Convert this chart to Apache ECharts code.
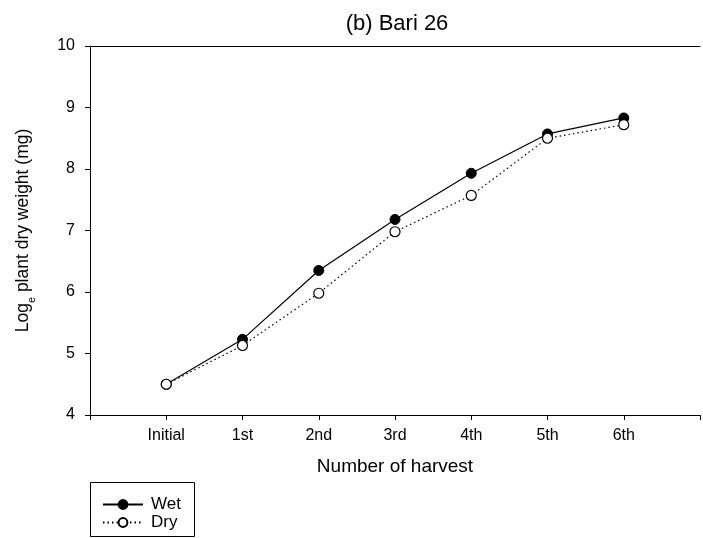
<!DOCTYPE html>
<html>
<head>
<meta charset="utf-8">
<script src="https://cdn.jsdelivr.net/npm/echarts@6/dist/echarts.min.js"></script>
<style>html,body{margin:0;padding:0;background:#fff;}#c{width:703px;height:538px;}</style>
</head>
<body>
<div id="c"></div>
<script>
const categories = ['Initial', '1st', '2nd', '3rd', '4th', '5th', '6th'];
const wetValues = [4.50, 5.23, 6.35, 7.18, 7.93, 8.57, 8.83];
const dryValues = [4.50, 5.13, 5.98, 6.98, 7.57, 8.50, 8.72];
const yTicks = [4, 5, 6, 7, 8, 9, 10];

const font = 'Liberation Sans, Arial, sans-serif';
const chart = echarts.init(document.getElementById('c'), null, {renderer: 'canvas'});
const pair = arr => arr.map((v, i) => [i, v]);
const legendCommon = {
  orient: 'vertical', left: 102, padding: 0,
  itemWidth: 40, itemHeight: 11, itemGap: 0,
  textStyle: {fontFamily: font, fontSize: 17, color: '#000', padding: [0, 0, 0, 3]}
};

chart.setOption({
  animation: false,
  backgroundColor: '#fff',
  title: {
    text: '(b) Bari 26', left: 392, top: 8, textAlign: 'center',
    textStyle: {fontFamily: font, fontSize: 22, fontWeight: 'normal', color: '#000'}
  },
  grid: {left: 90, top: 46, width: 620, height: 369, containLabel: false},
  legend: [
    Object.assign({top: 496, data: ['Wet']}, legendCommon),
    Object.assign({top: 514, data: ['Dry']}, legendCommon)
  ],
  graphic: [{
    type: 'rect', silent: true,
    shape: {x: 90.5, y: 482.5, width: 104, height: 54},
    style: {fill: 'none', stroke: '#000', lineWidth: 1}
  }],
  xAxis: [{
    type: 'value', min: -1, max: 7, interval: 1,
    name: 'Number of harvest', nameLocation: 'middle', nameGap: 42,
    nameTextStyle: {fontFamily: font, fontSize: 19, color: '#000'},
    axisLine: {onZero: false, lineStyle: {color: '#000', width: 1}},
    axisTick: {show: true, length: 5, lineStyle: {color: '#000'}},
    axisLabel: {
      fontFamily: font, fontSize: 16, color: '#000', margin: 13,
      formatter: v => (v >= 0 && v < categories.length) ? categories[v] : ''
    },
    splitLine: {show: false}
  }, {
    type: 'value', position: 'top', min: -1, max: 7,
    axisLine: {show: true, onZero: false, lineStyle: {color: '#000', width: 1}},
    axisTick: {show: false}, axisLabel: {show: false}, splitLine: {show: false}
  }],
  yAxis: {
    type: 'value', min: yTicks[0], max: yTicks[yTicks.length - 1], interval: 1,
    name: '{a|Log}{s|e}{a| plant dry weight (mg)}',
    nameLocation: 'middle', nameGap: 58,
    nameTextStyle: {
      fontFamily: font, color: '#000',
      rich: {
        a: {fontFamily: font, fontSize: 17.5, color: '#000', lineHeight: 20, verticalAlign: 'bottom'},
        s: {fontFamily: font, fontSize: 11, color: '#000', lineHeight: 20, verticalAlign: 'bottom', padding: [0, 0, -5, 0]}
      }
    },
    axisLine: {show: true, onZero: false, lineStyle: {color: '#000', width: 1}},
    axisTick: {show: true, length: 5, lineStyle: {color: '#000'}},
    axisLabel: {fontFamily: font, fontSize: 16, color: '#000', margin: 15},
    splitLine: {show: false}
  },
  series: [{
    name: 'Wet', type: 'line', data: pair(wetValues),
    symbol: 'circle', symbolSize: 10,
    itemStyle: {color: '#000', borderColor: '#000', borderWidth: 1},
    lineStyle: {color: '#000', width: 1.2, type: 'solid'},
    z: 2
  }, {
    name: 'Dry', type: 'line', data: pair(dryValues),
    symbol: 'circle', symbolSize: 10,
    itemStyle: {color: '#fff', borderColor: '#000', borderWidth: 1.2},
    lineStyle: {color: '#000', width: 1.2, type: [1.5, 3]},
    z: 3
  }]
});
</script>
</body>
</html>
